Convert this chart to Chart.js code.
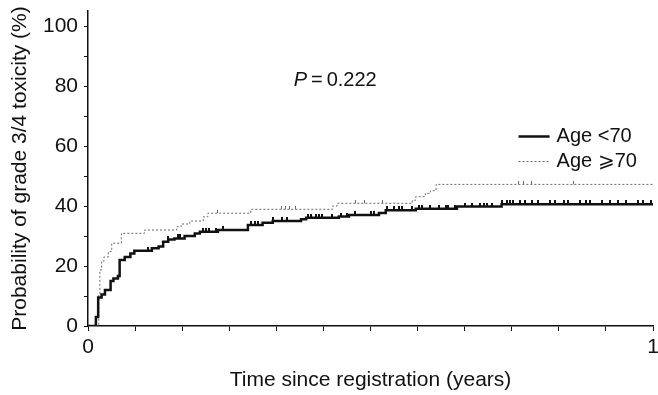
<!DOCTYPE html>
<html><head><meta charset="utf-8">
<script src="https://cdn.jsdelivr.net/npm/chart.js@4.4.0/dist/chart.umd.min.js"></script>
<style>html,body{margin:0;padding:0;background:#fff;}#wrap{width:658px;height:395px;position:relative;}</style>
</head><body><div id="wrap"><canvas id="c"></canvas></div>
<script>
// ---------- data ----------
const seriesLabels = ['Age <70', 'Age \u2A7E70'];
const xTitle = 'Time since registration (years)';
const yTitle = 'Probability of grade 3/4 toxicity (%)';
const pValueParts = ['P', '\u2009=\u20090.222'];

// Age <70 : cumulative incidence step points (years, %)
const youngTimes = [0, 0.014, 0.018, 0.024, 0.030, 0.040, 0.045, 0.053, 0.056, 0.065, 0.075, 0.082, 0.113, 0.125, 0.133, 0.142, 0.153, 0.171, 0.189, 0.198, 0.230, 0.283, 0.309, 0.327, 0.377, 0.386, 0.444, 0.462, 0.515, 0.527, 0.580, 0.653, 0.732, 1.0];
const youngProb  = [0, 3, 9.5, 10.5, 12, 15, 15.8, 16.7, 22, 23, 24.2, 25.1, 25.9, 26.5, 28.1, 28.8, 29.2, 30, 30.8, 31.4, 32, 33.7, 34.4, 35, 35.6, 36.1, 36.5, 37, 37.7, 38.6, 39.1, 39.8, 40.6, 40.6];
// Age >=70
const oldTimes = [0, 0.019, 0.021, 0.024, 0.028, 0.036, 0.042, 0.059, 0.100, 0.157, 0.165, 0.180, 0.204, 0.212, 0.288, 0.433, 0.441, 0.574, 0.580, 0.597, 0.606, 0.616, 1.0];
const oldProb  = [0, 10.3, 18.7, 21.4, 23, 24.8, 27.6, 30.9, 32, 33.1, 34, 35, 36.4, 37.6, 38.9, 40, 40.9, 41.9, 43.1, 44.2, 45.1, 47.2, 47.2];

// censoring times (years)
const youngCensor = [0.106, 0.142, 0.159, 0.162, 0.203, 0.209, 0.215, 0.227, 0.239, 0.289, 0.295, 0.300, 0.327, 0.344, 0.353, 0.389, 0.394, 0.403, 0.409, 0.415, 0.432, 0.447, 0.459, 0.473, 0.500, 0.506, 0.530, 0.541, 0.550, 0.556, 0.574, 0.586, 0.591, 0.606, 0.621, 0.633, 0.638, 0.650, 0.668, 0.680, 0.694, 0.700, 0.706, 0.715, 0.733, 0.742, 0.747, 0.753, 0.765, 0.773, 0.785, 0.797, 0.818, 0.827, 0.842, 0.850, 0.871, 0.882, 0.888, 0.909, 0.924, 0.938, 0.953, 0.973, 0.982, 0.997];
const oldCensor = [0.230, 0.342, 0.350, 0.356, 0.368, 0.474, 0.489, 0.521, 0.762, 0.771, 0.785, 0.859];

// ticks
const xTickValues = [0, 1/12, 2/12, 3/12, 4/12, 5/12, 6/12, 7/12, 8/12, 9/12, 10/12, 11/12, 1];
const xTickLabels = ['0', '', '', '', '', '', '', '', '', '', '', '', '1'];
const yTickValues = [0, 10, 20, 30, 40, 50, 60, 70, 80, 90, 100];
const yTickLabels = ['0', '', '20', '', '40', '', '60', '', '80', '', '100'];

// ---------- helpers ----------
function toPoints(ts, ps){ return ts.map((t,i)=>({x:t, y:ps[i]})); }
function stepValue(ts, ps, t){ let v = ps[0]; for (let i=0;i<ts.length;i++){ if (ts[i] <= t) v = ps[i]; } return v; }
function censorPoints(cs, ts, ps){ return cs.map(t=>({x:t, y:stepValue(ts, ps, t)})); }
function tickMark(w, h, color){
  const c = document.createElement('canvas'); c.width = w; c.height = h*2;
  const g = c.getContext('2d'); g.fillStyle = color; g.fillRect(0,0,w,h); return c;
}

const FONT = '"Liberation Sans", Arial, Helvetica, sans-serif';
const FS = 21;
const DARK = '#111';
const DOT = '#6a6a6a';

const annot = {
  id: 'annot',
  afterDatasetsDraw(chart, args, opts){
    const ctx = chart.ctx, xs = chart.scales.x, ys = chart.scales.y;
    ctx.save();
    ctx.fillStyle = DARK;
    ctx.textBaseline = 'middle';
    // P value
    let px = xs.getPixelForValue(opts.pX), py = ys.getPixelForValue(opts.pY);
    ctx.font = 'italic 20px ' + FONT;
    ctx.fillText(pValueParts[0], px, py);
    px += ctx.measureText(pValueParts[0]).width;
    ctx.font = '20px ' + FONT;
    ctx.fillText(pValueParts[1], px, py);
    // legend
    const lx0 = xs.getPixelForValue(opts.legX0), lx1 = xs.getPixelForValue(opts.legX1);
    const styles = [{w:2.5,c:DARK,d:[]},{w:1,c:DOT,d:[2,2]}];
    opts.legY.forEach((yv,i)=>{
      const yy = Math.round(ys.getPixelForValue(yv)) + 0.5;
      ctx.beginPath(); ctx.lineWidth = styles[i].w; ctx.strokeStyle = styles[i].c; ctx.setLineDash(styles[i].d);
      ctx.moveTo(lx0, yy); ctx.lineTo(lx1, yy); ctx.stroke();
      ctx.setLineDash([]);
      ctx.fillStyle = DARK; ctx.font = '20px ' + FONT;
      ctx.fillText(seriesLabels[i], lx1 + 7, yy);
    });
    ctx.restore();
  }
};

new Chart(document.getElementById('c'), {
  type: 'scatter',
  data: {
    datasets: [
      { label: seriesLabels[0], type: 'line', data: toPoints(youngTimes, youngProb), stepped: true,
        borderColor: DARK, borderWidth: 2.5, pointRadius: 0, fill: false, order: 1 },
      { label: seriesLabels[1], type: 'line', data: toPoints(oldTimes, oldProb), stepped: true,
        borderColor: DOT, borderWidth: 1, borderDash: [2,2], pointRadius: 0, fill: false, order: 2 },
      { label: 'c1', data: censorPoints(youngCensor, youngTimes, youngProb), pointStyle: tickMark(2, 4, DARK), pointRadius: 3 },
      { label: 'c2', data: censorPoints(oldCensor, oldTimes, oldProb), pointStyle: tickMark(1, 3, DOT), pointRadius: 3 }
    ]
  },
  options: {
    responsive: true, maintainAspectRatio: false, animation: false,
    layout: { padding: { left: 0, right: 3, top: 11, bottom: 0 } },
    plugins: {
      legend: { display: false }, tooltip: { enabled: false },
      annot: { pX: 0.364, pY: 82, legX0: 0.762, legX1: 0.817, legY: [63.5, 55] }
    },
    scales: {
      x: {
        type: 'linear', min: 0, max: 1,
        afterBuildTicks: s => { s.ticks = xTickValues.map(v=>({value:v})); },
        afterFit: s => { s.height = 69; s.paddingLeft = 0; s.paddingRight = 0; },
        ticks: { autoSkip: false, maxRotation: 0, padding: 4, color: DARK, font: { family: FONT, size: FS },
                 callback: (v, i) => xTickLabels[i] },
        grid: { drawOnChartArea: false, drawTicks: true, tickLength: 5, color: DARK, lineWidth: 1 },
        border: { color: DARK, width: 1.5 },
        title: { display: true, text: xTitle, color: DARK, font: { family: FONT, size: FS }, padding: { top: 0, bottom: 2 } }
      },
      y: {
        type: 'linear', min: 0, max: 105,
        afterBuildTicks: s => { s.ticks = yTickValues.map(v=>({value:v})); },
        afterFit: s => { s.width = 88; s.paddingTop = 0; s.paddingBottom = 0; },
        ticks: { autoSkip: false, padding: 6, color: DARK, font: { family: FONT, size: FS },
                 callback: (v, i) => yTickLabels[i] },
        grid: { drawOnChartArea: false, drawTicks: true, tickLength: 4, color: DARK, lineWidth: 1 },
        border: { color: DARK, width: 1.5 },
        title: { display: true, text: yTitle, color: DARK, font: { family: FONT, size: FS }, padding: { top: 8, bottom: 0 } }
      }
    }
  },
  plugins: [annot]
});
</script></body></html>
